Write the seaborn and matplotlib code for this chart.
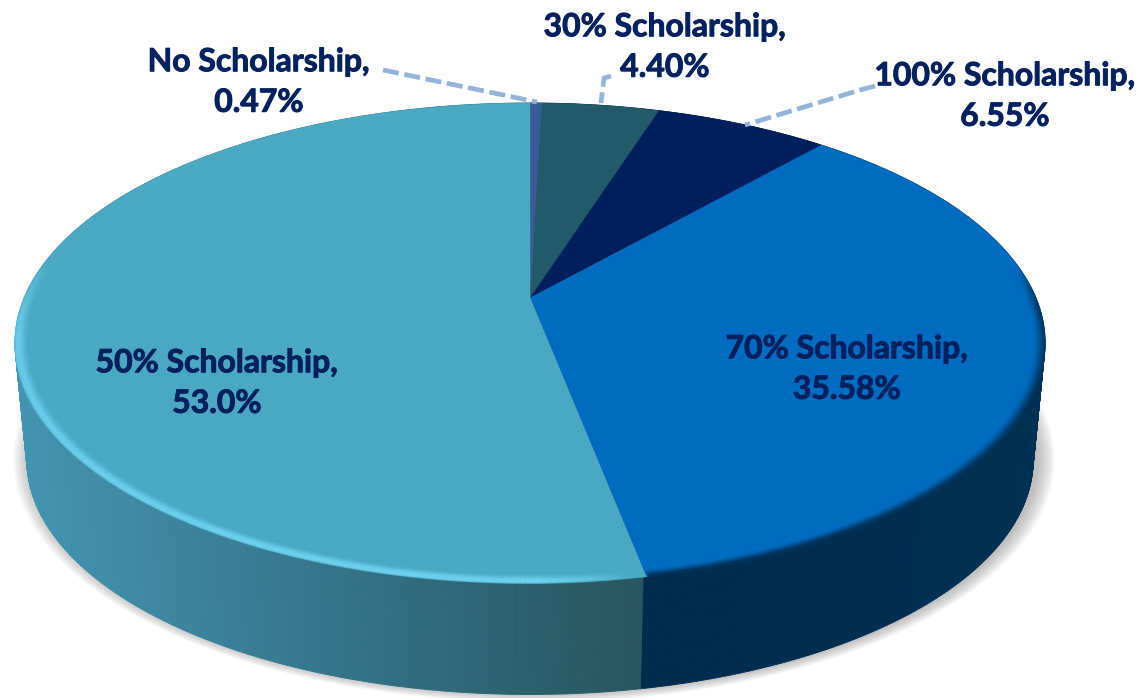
import numpy as np
import matplotlib
matplotlib.use("Agg")
import matplotlib.pyplot as plt
from matplotlib.collections import PolyCollection, LineCollection
from matplotlib.colors import to_rgb
import matplotlib.patheffects as pe
import seaborn as sns

# slices, clockwise from 12 o'clock
categories = ['No Scholarship', '30% Scholarship', '100% Scholarship', '70% Scholarship', '50% Scholarship']
shares = [0.47, 4.40, 6.55, 35.58, 53.0]
share_labels = ['0.47%', '4.40%', '6.55%', '35.58%', '53.0%']
top_colors = ['#375d97', '#225a69', '#001f5c', '#006cbf', '#4aa8c3']

sns.set_theme(style='white')
plt.rcParams['font.family'] = ['Lato', 'DejaVu Sans']

W, H = 1138, 698
fig = plt.figure(figsize=(W / 100, H / 100), dpi=100)
ax = fig.add_axes([0, 0, 1, 1])
ax.set_xlim(0, W)
ax.set_ylim(H, 0)
ax.axis('off')

TEXT_COL = '#04215f'
LEADER_COL = '#94b3d9'
CX = 530


def project(theta, r=1.0, y0=298, s=1.0):
    # circle in the table plane -> screen, with a bit of perspective
    u = r * np.sin(theta)
    v = r * np.cos(theta)
    w = 1 + 0.1875 * v
    return CX + s * 505.9 * u / w, y0 - s * 231.6 * v / w


def top_poly(t0, t1, r=1.0, n=200):
    t = np.linspace(t0, t1, n)
    x, y = project(t, r)
    return np.r_[CX, x], np.r_[298, y]


def rim_band(t0, t1, r, color, alpha, lw, fade):
    # one ring of the bevel, alpha goes with the fade curve along the arc
    t = np.linspace(t0, t1, 240)
    x, y = project(t, r)
    pts = np.column_stack([x, y])
    segs = np.stack([pts[:-1], pts[1:]], axis=1)
    f = fade(np.linspace(0, 1, len(segs)))
    rgba = [(*to_rgb(color), alpha * v) for v in f]
    ax.add_collection(LineCollection(segs, colors=rgba, linewidths=lw, capstyle='butt'))


bounds = np.r_[0, np.cumsum(shares)] / sum(shares) * 2 * np.pi

# soft shadow under the pie
full = np.linspace(0, 2 * np.pi, 400)
for grow in np.linspace(1.035, 1.0, 14):
    x, y = project(full, 1.0, y0=416, s=0.977)
    ax.fill(CX + 4 + (x - CX) * grow, 440 + (y - 440) * grow - 1, color='#7f7f7f', alpha=0.045, lw=0)

# side wall, short vertical strips
side_left = sns.blend_palette(['#28555f', '#2f6a7b', '#3a7f98', '#4394b0'], 200)
side_right = sns.blend_palette(['#002c4e', '#002d50', '#003152'], 60)
t = np.linspace(0, 2 * np.pi, 721)
quads, cols = [], []
for a, b in zip(t[:-1], t[1:]):
    xa, ya = project(a)
    xb, yb = project(b)
    xc, yc = project(b, y0=416, s=0.977)
    xd, yd = project(a, y0=416, s=0.977)
    quads.append([(xa, ya), (xb, yb), (xc, yc), (xd, yd)])
    if a >= bounds[4]:
        k = min(int((xa - 20) / (645 - 20) * 200), 199)
        cols.append(side_left[199 - max(k, 0)])
    else:
        k = int(np.clip((xa - 645) / 400 * 60, 0, 59))
        cols.append(side_right[k])
ax.add_collection(PolyCollection(quads, facecolors=cols, edgecolors=cols, linewidths=0.6))

# top face
for i, col in enumerate(top_colors):
    x, y = top_poly(bounds[i], bounds[i + 1])
    ax.fill(x, y, color=col, lw=0.3)

# bevel on the rim of the two big slices
light_fade = lambda p: np.clip(p / 0.08, 0, 1) * np.clip((1 - p) / 0.18, 0, 1)
dark_fade = lambda p: np.clip(p / 0.12, 0, 1)
for r, a in zip(np.linspace(0.999, 0.978, 8), [0.55, 0.7, 0.75, 0.65, 0.45, 0.3, 0.16, 0.07]):
    rim_band(bounds[4] + 0.02, np.radians(280), r, '#6fd3f2', a, 1.8, light_fade)
for r, a in zip(np.linspace(0.999, 0.982, 7), [0.8, 0.62, 0.46, 0.32, 0.2, 0.11, 0.05]):
    rim_band(np.radians(82), bounds[4] - 0.003, r, '#002c4e', a, 1.6, dark_fade)

# leader lines
leaders = [
    ([383, 537], [70, 102]),
    ([611, 604, 601], [76, 78, 103]),
    ([875, 860, 745], [86, 90, 125]),
]
for lx, ly in leaders:
    ax.plot(lx, ly, color=LEADER_COL, lw=3.4, ls=(0, (3.4, 1.2)))

# data labels
label_pos = [(259, 82), (665, 47), (1005, 96), (847, 369), (217, 383)]
for name, txt, (lx, ly) in zip(categories, share_labels, label_pos):
    ax.text(lx, ly, name + ',\n' + txt, ha='center', va='center', color=TEXT_COL,
            fontsize=23, fontweight='bold', linespacing=1.48,
            path_effects=[pe.withStroke(linewidth=0.7, foreground=TEXT_COL)])

fig.savefig('out.png', dpi=100)
